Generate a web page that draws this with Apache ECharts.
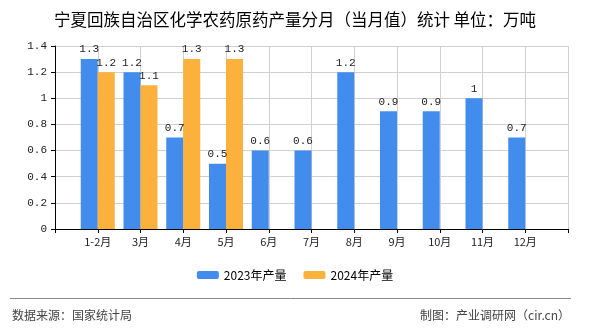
<!DOCTYPE html>
<html><head><meta charset="utf-8">
<script src="https://cdn.jsdelivr.net/npm/echarts@6/dist/echarts.min.js"></script>
<style>html,body{margin:0;padding:0;background:#fff}#c{width:590px;height:330px}</style>
</head><body><div id="c"></div>
<script>
const titleText = '宁夏回族自治区化学农药原药产量分月（当月值）统计 单位：万吨';
const months = ['1-2月','3月','4月','5月','6月','7月','8月','9月','10月','11月','12月'];
const seriesNames = ['2023年产量','2024年产量'];
const values2023 = [1.3,1.2,0.7,0.5,0.6,0.6,1.2,0.9,0.9,1,0.7];
const values2024 = [1.2,1.1,1.3,1.3,null,null,null,null,null,null,null];
const yTicks = {min:0, max:1.4, interval:0.2};
const sourceText = '数据来源：国家统计局';
const makerText = '制图：产业调研网（cir.cn）';

const cats = [''].concat(months, ['']);
const pad = a => [null].concat(a, [null]);
const mono = "'Liberation Mono','DejaVu Sans Mono',monospace";
const sans = "'Noto Sans CJK SC','Noto Sans',sans-serif";

const chart = echarts.init(document.getElementById('c'), null, {renderer:'canvas'});
chart.setOption({
  animation:false,
  backgroundColor:'#fff',
  title:{text:titleText,left:'center',top:6,textStyle:{fontFamily:sans,fontSize:16.5,fontWeight:'normal',color:'#000'}},
  grid:{left:55,right:22,top:46,bottom:101,containLabel:false},
  legend:{bottom:44,left:'center',itemWidth:22,itemHeight:8,itemGap:17,
    textStyle:{fontFamily:sans,fontSize:12,color:'#000'},
    data:seriesNames},
  xAxis:{type:'category',data:cats,boundaryGap:false,
    axisLine:{lineStyle:{color:'#000',width:1}},
    axisTick:{show:true,length:4,lineStyle:{color:'#000'}},
    axisLabel:{fontFamily:sans,fontSize:11,color:'#222',margin:7,interval:0},
    splitLine:{show:true,lineStyle:{color:'#d0d0d0',width:1}}},
  yAxis:{type:'value',min:yTicks.min,max:yTicks.max,interval:yTicks.interval,
    axisLine:{show:true,lineStyle:{color:'#000'}},
    axisTick:{show:true,length:4,lineStyle:{color:'#000'}},
    axisLabel:{fontFamily:mono,fontSize:11,color:'#222',margin:8,
      formatter:v=>String(Math.round(v*10)/10)},
    splitLine:{show:true,lineStyle:{color:'#d0d0d0',width:1}}},
  series:[
    {name:seriesNames[0],type:'bar',data:pad(values2023),barWidth:17,barGap:'0%',
      itemStyle:{color:'#428CEE'},
      label:{show:true,position:'top',distance:4,fontFamily:mono,fontSize:11,color:'#222'}},
    {name:seriesNames[1],type:'bar',data:pad(values2024),barWidth:17,barGap:'0%',
      itemStyle:{color:'#FBB13C'},
      label:{show:true,position:'top',distance:4,fontFamily:mono,fontSize:11,color:'#222'}}
  ],
  graphic:[
    {type:'line',shape:{x1:10,y1:298.5,x2:571,y2:298.5},style:{stroke:'#888',lineWidth:1}},
    {type:'text',left:12,top:309,style:{text:sourceText,font:"12px 'Noto Sans CJK SC',sans-serif",fill:'#444'}},
    {type:'text',right:20,top:309,style:{text:makerText,font:"12px 'Noto Sans CJK SC',sans-serif",fill:'#444'}}
  ]
});
</script></body></html>
